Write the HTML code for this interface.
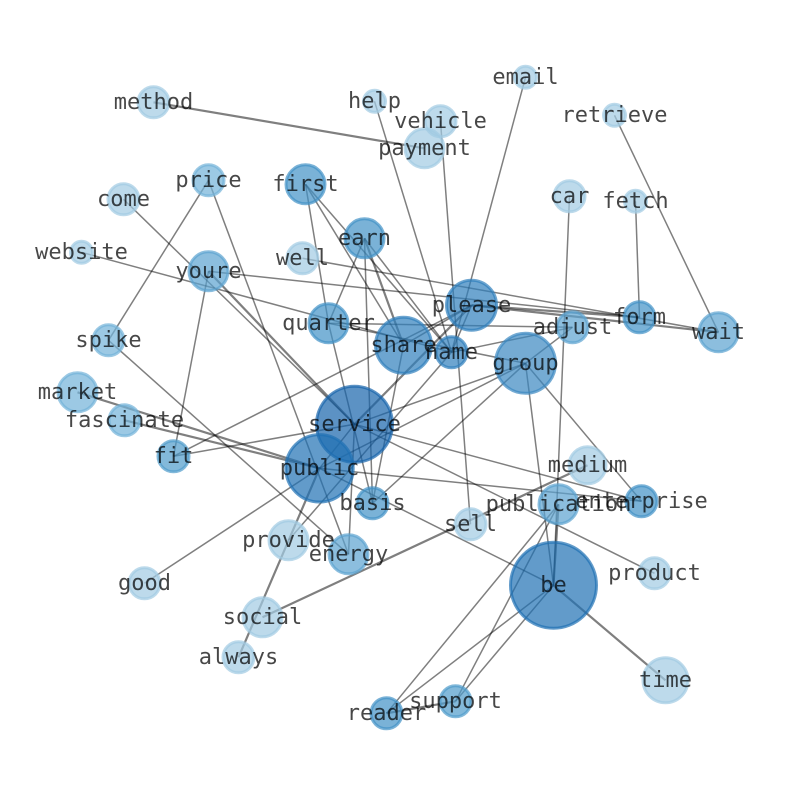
<!DOCTYPE html>
<html>
<head>
<meta charset="utf-8">
<style>
html,body{margin:0;padding:0;background:#fff}
svg{display:block}
.e line{stroke:#000;stroke-opacity:.5;stroke-width:1.5}
.t line{stroke:#000;stroke-opacity:.5;stroke-width:2.2}
.n circle{stroke-width:3;fill-opacity:.7;stroke-opacity:.7}
.l text{font-family:"DejaVu Sans Mono","Liberation Mono",monospace;font-size:22px;fill:#000;fill-opacity:.72;text-anchor:middle;dominant-baseline:central}
</style>
</head>
<body>
<svg width="794" height="790" viewBox="0 0 794 790" xmlns="http://www.w3.org/2000/svg">
<rect width="794" height="790" fill="#fff"/>
<g transform="translate(.5,.3)">
<g class="t">
<line x1="153" y1="102" x2="424" y2="148"/>
<line x1="471" y1="305" x2="718" y2="332"/>
<line x1="471" y1="305" x2="639" y2="317"/>
<line x1="77" y1="392" x2="319" y2="468"/>
<line x1="124" y1="420" x2="319" y2="468"/>
<line x1="238" y1="657" x2="319" y2="468"/>
<line x1="262" y1="617" x2="587" y2="465"/>
<line x1="553" y1="585" x2="665" y2="680"/>
<line x1="386" y1="713" x2="455" y2="701"/>
<line x1="354" y1="424" x2="471" y2="305"/>
<line x1="558" y1="504" x2="553" y2="585"/>
<line x1="208" y1="271" x2="354" y2="424"/>
<line x1="364" y1="238" x2="403" y2="345"/>
</g>
<g class="e">
<line x1="374" y1="101" x2="451" y2="352"/>
<line x1="440" y1="121" x2="470" y2="524"/>
<line x1="525" y1="77" x2="451" y2="352"/>
<line x1="614" y1="115" x2="718" y2="332"/>
<line x1="569" y1="196" x2="553" y2="585"/>
<line x1="635" y1="201" x2="639" y2="317"/>
<line x1="208" y1="180" x2="108" y2="340"/>
<line x1="208" y1="180" x2="348" y2="554"/>
<line x1="123" y1="199" x2="354" y2="424"/>
<line x1="81" y1="252" x2="451" y2="352"/>
<line x1="302" y1="258" x2="718" y2="332"/>
<line x1="208" y1="271" x2="639" y2="317"/>
<line x1="208" y1="271" x2="173" y2="456"/>
<line x1="305" y1="184" x2="328" y2="323"/>
<line x1="305" y1="184" x2="403" y2="345"/>
<line x1="305" y1="184" x2="451" y2="352"/>
<line x1="328" y1="323" x2="372" y2="503"/>
<line x1="364" y1="238" x2="328" y2="323"/>
<line x1="364" y1="238" x2="372" y2="503"/>
<line x1="364" y1="238" x2="451" y2="352"/>
<line x1="471" y1="305" x2="403" y2="345"/>
<line x1="471" y1="305" x2="451" y2="352"/>
<line x1="471" y1="305" x2="173" y2="456"/>
<line x1="328" y1="323" x2="572" y2="327"/>
<line x1="328" y1="323" x2="525" y2="363"/>
<line x1="451" y1="352" x2="572" y2="327"/>
<line x1="451" y1="352" x2="288" y2="540"/>
<line x1="403" y1="345" x2="372" y2="503"/>
<line x1="572" y1="327" x2="525" y2="363"/>
<line x1="525" y1="363" x2="319" y2="468"/>
<line x1="525" y1="363" x2="354" y2="424"/>
<line x1="525" y1="363" x2="372" y2="503"/>
<line x1="525" y1="363" x2="553" y2="585"/>
<line x1="525" y1="363" x2="641" y2="501"/>
<line x1="173" y1="456" x2="354" y2="424"/>
<line x1="354" y1="424" x2="641" y2="501"/>
<line x1="354" y1="424" x2="654" y2="573"/>
<line x1="354" y1="424" x2="348" y2="554"/>
<line x1="354" y1="424" x2="319" y2="468"/>
<line x1="319" y1="468" x2="144" y2="583"/>
<line x1="319" y1="468" x2="553" y2="585"/>
<line x1="319" y1="468" x2="641" y2="501"/>
<line x1="108" y1="340" x2="348" y2="554"/>
<line x1="558" y1="504" x2="386" y2="713"/>
<line x1="558" y1="504" x2="455" y2="701"/>
<line x1="553" y1="585" x2="386" y2="713"/>
<line x1="553" y1="585" x2="455" y2="701"/>
</g>
<g class="n">
<circle cx="153" cy="102" r="15.5" fill="#a1cbe2" stroke="#a1cbe2"/>
<circle cx="374" cy="101" r="11" fill="#a1cbe2" stroke="#a1cbe2"/>
<circle cx="440" cy="121" r="15.5" fill="#a1cbe2" stroke="#a1cbe2"/>
<circle cx="424" cy="148" r="19.5" fill="#a1cbe2" stroke="#a1cbe2"/>
<circle cx="525" cy="77" r="11" fill="#a1cbe2" stroke="#a1cbe2"/>
<circle cx="614" cy="115" r="11" fill="#a1cbe2" stroke="#a1cbe2"/>
<circle cx="569" cy="196" r="15.5" fill="#a1cbe2" stroke="#a1cbe2"/>
<circle cx="635" cy="201" r="11" fill="#a1cbe2" stroke="#a1cbe2"/>
<circle cx="123" cy="199" r="15.5" fill="#a1cbe2" stroke="#a1cbe2"/>
<circle cx="81" cy="252" r="11" fill="#a1cbe2" stroke="#a1cbe2"/>
<circle cx="302" cy="258" r="15.5" fill="#a1cbe2" stroke="#a1cbe2"/>
<circle cx="587" cy="465" r="18.5" fill="#a1cbe2" stroke="#a1cbe2"/>
<circle cx="470" cy="524" r="15.5" fill="#a1cbe2" stroke="#a1cbe2"/>
<circle cx="288" cy="540" r="19.5" fill="#a1cbe2" stroke="#a1cbe2"/>
<circle cx="144" cy="583" r="15.5" fill="#a1cbe2" stroke="#a1cbe2"/>
<circle cx="654" cy="573" r="15.5" fill="#a1cbe2" stroke="#a1cbe2"/>
<circle cx="262" cy="617" r="19.5" fill="#a1cbe2" stroke="#a1cbe2"/>
<circle cx="238" cy="657" r="15.5" fill="#a1cbe2" stroke="#a1cbe2"/>
<circle cx="665" cy="680" r="22.5" fill="#a1cbe2" stroke="#a1cbe2"/>
<circle cx="208" cy="180" r="15.5" fill="#72b2d8" stroke="#72b2d8"/>
<circle cx="108" cy="340" r="15.5" fill="#72b2d8" stroke="#72b2d8"/>
<circle cx="77" cy="392" r="19.5" fill="#72b2d8" stroke="#72b2d8"/>
<circle cx="124" cy="420" r="15.5" fill="#72b2d8" stroke="#72b2d8"/>
<circle cx="208" cy="271" r="19.5" fill="#5ba3d0" stroke="#5ba3d0"/>
<circle cx="572" cy="327" r="15.5" fill="#5ba3d0" stroke="#5ba3d0"/>
<circle cx="348" cy="554" r="19.5" fill="#5ba3d0" stroke="#5ba3d0"/>
<circle cx="455" cy="701" r="15.5" fill="#4f9bcb" stroke="#4f9bcb"/>
<circle cx="718" cy="332" r="19.5" fill="#5ba3d0" stroke="#5ba3d0"/>
<circle cx="558" cy="504" r="19.5" fill="#5ba3d0" stroke="#5ba3d0"/>
<circle cx="305" cy="184" r="19.5" fill="#4292c6" stroke="#4292c6"/>
<circle cx="364" cy="238" r="19.5" fill="#4292c6" stroke="#4292c6"/>
<circle cx="328" cy="323" r="19.5" fill="#4292c6" stroke="#4292c6"/>
<circle cx="639" cy="317" r="15.5" fill="#4292c6" stroke="#4292c6"/>
<circle cx="372" cy="503" r="15.5" fill="#4292c6" stroke="#4292c6"/>
<circle cx="641" cy="501" r="15.5" fill="#4292c6" stroke="#4292c6"/>
<circle cx="386" cy="713" r="15.5" fill="#4292c6" stroke="#4292c6"/>
<circle cx="173" cy="456" r="15.5" fill="#4f9bcb" stroke="#4f9bcb"/>
<circle cx="471" cy="305" r="25" fill="#2f7fbc" stroke="#2f7fbc"/>
<circle cx="403" cy="345" r="28" fill="#2f7fbc" stroke="#2f7fbc"/>
<circle cx="451" cy="352" r="15.5" fill="#2f7fbc" stroke="#2f7fbc"/>
<circle cx="525" cy="363" r="30" fill="#3a87c0" stroke="#3a87c0"/>
<circle cx="354" cy="424" r="38" fill="#1764ab" stroke="#1764ab"/>
<circle cx="319" cy="468" r="33.7" fill="#2070b4" stroke="#2070b4"/>
<circle cx="553" cy="585" r="43" fill="#2070b4" stroke="#2070b4"/>
</g>
<g class="l">
<text x="153" y="102">method</text>
<text x="374" y="101">help</text>
<text x="440" y="121">vehicle</text>
<text x="424" y="148">payment</text>
<text x="525" y="77">email</text>
<text x="614" y="115">retrieve</text>
<text x="569" y="196">car</text>
<text x="635" y="201">fetch</text>
<text x="208" y="180">price</text>
<text x="305" y="184">first</text>
<text x="123" y="199">come</text>
<text x="364" y="238">earn</text>
<text x="81" y="252">website</text>
<text x="302" y="258">well</text>
<text x="208" y="271">youre</text>
<text x="471" y="305">please</text>
<text x="328" y="323">quarter</text>
<text x="572" y="327">adjust</text>
<text x="639" y="317">form</text>
<text x="718" y="332">wait</text>
<text x="108" y="340">spike</text>
<text x="403" y="345">share</text>
<text x="451" y="352">name</text>
<text x="525" y="363">group</text>
<text x="77" y="392">market</text>
<text x="124" y="420">fascinate</text>
<text x="354" y="424">service</text>
<text x="173" y="456">fit</text>
<text x="319" y="468">public</text>
<text x="587" y="465">medium</text>
<text x="372" y="503">basis</text>
<text x="558" y="504">publication</text>
<text x="641" y="501">enterprise</text>
<text x="470" y="524">sell</text>
<text x="288" y="540">provide</text>
<text x="348" y="554">energy</text>
<text x="144" y="583">good</text>
<text x="553" y="585">be</text>
<text x="654" y="573">product</text>
<text x="262" y="617">social</text>
<text x="238" y="657">always</text>
<text x="665" y="680">time</text>
<text x="386" y="713">reader</text>
<text x="455" y="701">support</text>
</g>
</g>
</svg>
</body>
</html>
